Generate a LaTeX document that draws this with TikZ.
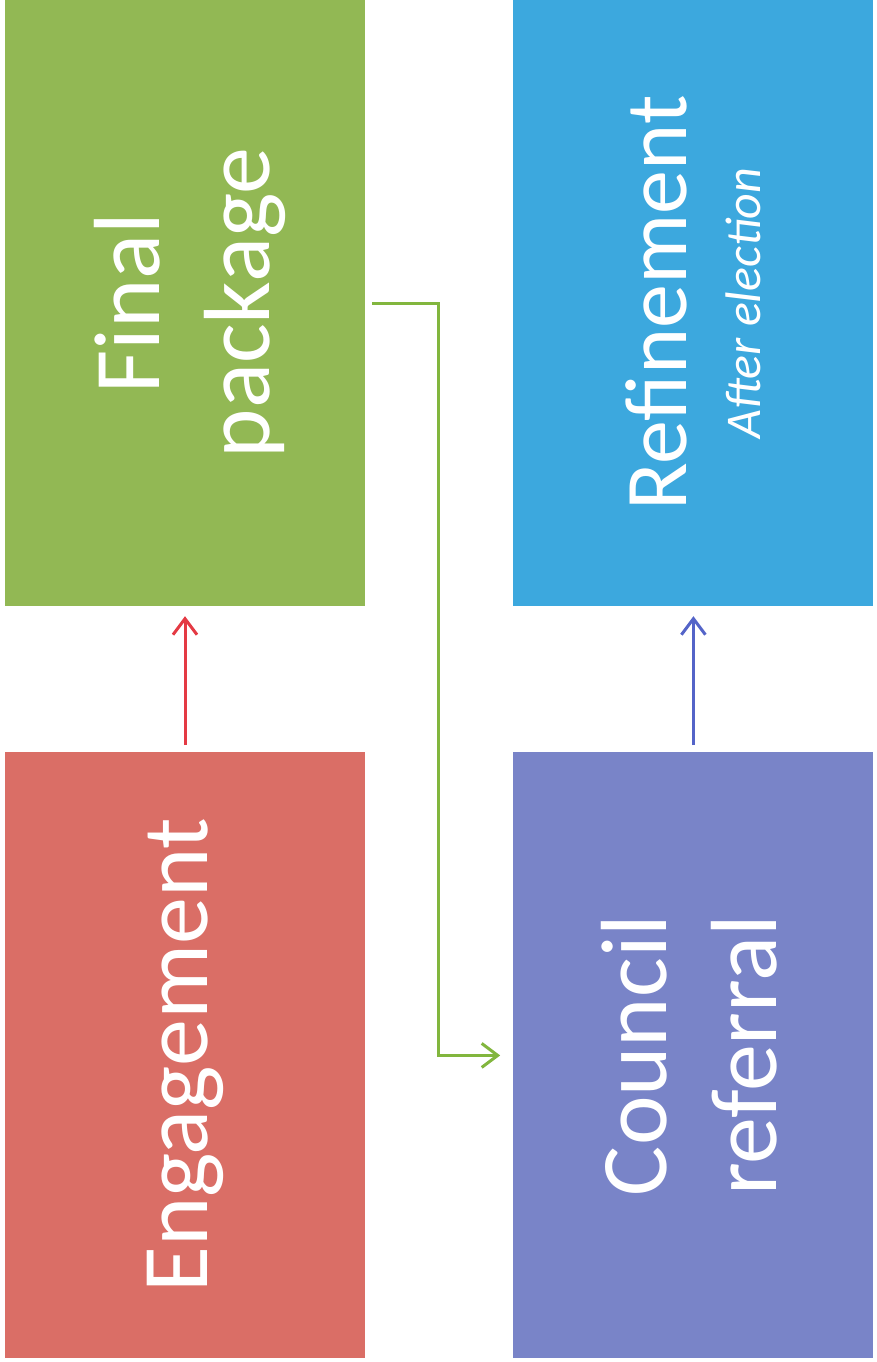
\documentclass[tikz,border=0pt]{standalone}
\usepackage{fontspec}
\setmainfont{Carlito}
\usetikzlibrary{arrows.meta,positioning}
\definecolor{eng}{RGB}{218,110,102}
\definecolor{fin}{RGB}{146,184,84}
\definecolor{cou}{RGB}{121,132,200}
\definecolor{ref}{RGB}{60,168,222}
\definecolor{engarr}{RGB}{228,58,68}
\definecolor{finarr}{RGB}{130,182,62}
\definecolor{couarr}{RGB}{84,100,200}

\begin{document}
\begin{tikzpicture}[x=1pt,y=-1pt,
  box/.style={minimum width=360pt,minimum height=606pt,inner sep=0pt},
  lbl/.style={rotate=90,align=center,text=white,inner sep=0pt,
    font=\fontsize{94}{110}\selectfont},
  arr/.style={line width=3pt,-{Straight Barb[length=16pt,width=24pt]}}]
\useasboundingbox (0,0) rectangle (877,1362);
\node[box,fill=fin] (fin) at (185,303) {};
\node[box,fill=ref,right=148pt of fin] (ref) {};
\node[box,fill=eng,below=146pt of fin] (eng) {};
\node[box,fill=cou,right=148pt of eng] (cou) {};
\node[lbl,yshift=-5pt] (fintxt) at (fin) {Final\\package};
\node[lbl] (engtxt) at (eng) {Engagement};
\node[lbl,yshift=4pt] (coutxt) at (cou) {Council\\referral};
\node[lbl,font=\fontsize{88}{100}\selectfont] (reftxt) at (ref)
  {Refinement\\[-26pt]{\fontsize{50}{58}\selectfont\itshape After election}};
\draw[arr,engarr] ([yshift=7pt]eng.north) -- ([yshift=-10pt]fin.south);
\draw[arr,couarr] ([yshift=7pt]cou.north) -- ([yshift=-10pt]ref.south);
\draw[arr,finarr] ([xshift=7pt]fin.east) -- ++(66pt,0) |- ([xshift=-13pt]cou.west);
\end{tikzpicture}
\end{document}
